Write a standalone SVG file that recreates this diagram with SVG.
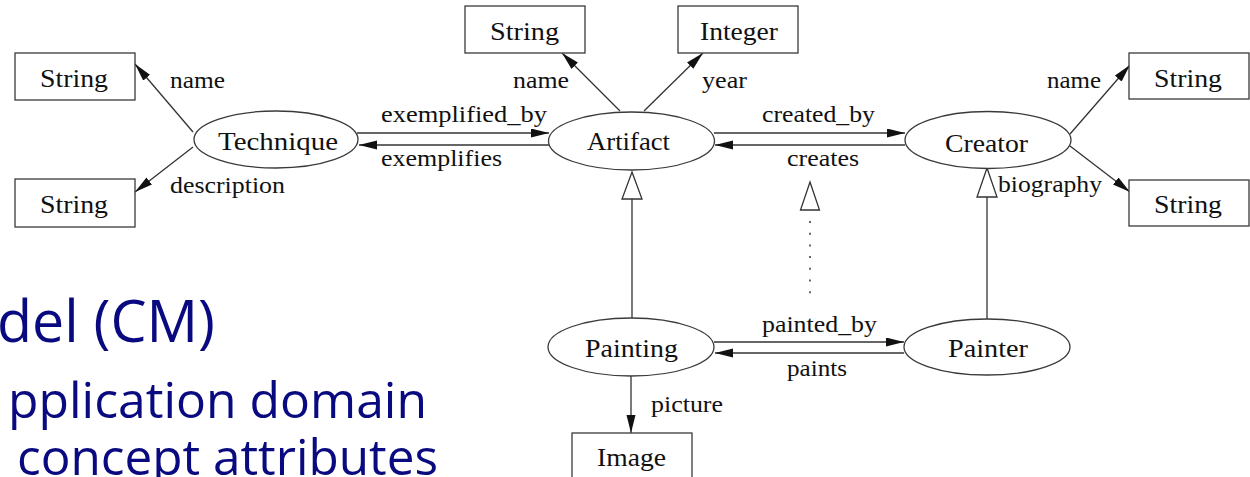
<svg xmlns="http://www.w3.org/2000/svg" width="1250" height="477" viewBox="0 0 1250 477">
<defs>
<style>
.box{fill:#fff;stroke:#3a3a3a;stroke-width:1.3}
.ell{fill:#fff;stroke:#3a3a3a;stroke-width:1.3}
.t{font-family:"Liberation Serif","Times New Roman",serif;font-size:25px;fill:#111}
.l{font-family:"Liberation Serif","Times New Roman",serif;font-size:23px;fill:#111}
.e{stroke:#333;stroke-width:1.3;fill:none}
.tri{fill:#fff;stroke:#333;stroke-width:1.3}
.title{font-family:"Open Sans","Noto Sans",sans-serif;fill:#0a0a80}
</style>
<marker id="ah" markerWidth="20" markerHeight="10" refX="18" refY="4.5" orient="auto" markerUnits="userSpaceOnUse">
<path d="M0,0 L18,4.5 L0,9 Z" fill="#111"/>
</marker>
</defs>

<g id="title">
<text class="title" x="-3" y="342" font-size="58" textLength="218" lengthAdjust="spacingAndGlyphs">del (CM)</text>
<text class="title" x="8" y="418" font-size="49" textLength="419" lengthAdjust="spacingAndGlyphs">pplication domain</text>
<text class="title" x="17" y="475" font-size="49" textLength="421" lengthAdjust="spacingAndGlyphs">concept attributes</text>
</g>

<g id="connectors">
<line class="e" x1="193" y1="132" x2="135" y2="64" marker-end="url(#ah)"/>
<line class="e" x1="193" y1="147" x2="135" y2="192" marker-end="url(#ah)"/>
<line class="e" x1="620" y1="111" x2="562" y2="53" marker-end="url(#ah)"/>
<line class="e" x1="644" y1="111" x2="703" y2="53" marker-end="url(#ah)"/>
<line class="e" x1="1070" y1="134" x2="1130" y2="65" marker-end="url(#ah)"/>
<line class="e" x1="1070" y1="146" x2="1130" y2="192" marker-end="url(#ah)"/>
<line class="e" x1="357" y1="133" x2="549" y2="133" marker-end="url(#ah)"/>
<line class="e" x1="549" y1="145" x2="359" y2="145" marker-end="url(#ah)"/>
<line class="e" x1="714" y1="133" x2="905" y2="133" marker-end="url(#ah)"/>
<line class="e" x1="905" y1="145" x2="715" y2="145" marker-end="url(#ah)"/>
<line class="e" x1="714" y1="342" x2="904" y2="342" marker-end="url(#ah)"/>
<line class="e" x1="904" y1="353" x2="715" y2="353" marker-end="url(#ah)"/>
<line class="e" x1="631" y1="376" x2="631" y2="433" marker-end="url(#ah)"/>
<line class="e" x1="632" y1="199" x2="632" y2="318"/>
<path class="tri" d="M632,172 L642,199 L622,199 Z"/>
<line x1="810" y1="221" x2="810" y2="295" stroke="#666" stroke-width="2" stroke-dasharray="2,9.7"/>
<path class="tri" d="M810,182 L819.5,210 L800.5,210 Z"/>
<line class="e" x1="987" y1="197" x2="987" y2="319"/>
<path class="tri" d="M987,168 L997,197 L977,197 Z"/>
<text class="l" x="170" y="88" textLength="55" lengthAdjust="spacingAndGlyphs">name</text>
<text class="l" x="170" y="193" textLength="115" lengthAdjust="spacingAndGlyphs">description</text>
<text class="l" x="513" y="88" textLength="56" lengthAdjust="spacingAndGlyphs">name</text>
<text class="l" x="702" y="88" textLength="45" lengthAdjust="spacingAndGlyphs">year</text>
<text class="l" x="381" y="122" textLength="166" lengthAdjust="spacingAndGlyphs">exemplified_by</text>
<text class="l" x="381" y="166" textLength="121" lengthAdjust="spacingAndGlyphs">exemplifies</text>
<text class="l" x="762" y="122" textLength="113" lengthAdjust="spacingAndGlyphs">created_by</text>
<text class="l" x="787" y="166" textLength="72" lengthAdjust="spacingAndGlyphs">creates</text>
<text class="l" x="1047" y="88" textLength="54" lengthAdjust="spacingAndGlyphs">name</text>
<text class="l" x="998" y="192" textLength="104" lengthAdjust="spacingAndGlyphs">biography</text>
<text class="l" x="762" y="332" textLength="115" lengthAdjust="spacingAndGlyphs">painted_by</text>
<text class="l" x="787" y="376" textLength="60" lengthAdjust="spacingAndGlyphs">paints</text>
<text class="l" x="651" y="412" textLength="72" lengthAdjust="spacingAndGlyphs">picture</text>
</g>

<g id="string-tl"><rect class="box" x="15" y="53" width="120" height="47"/><text class="t" x="40" y="87" textLength="68" lengthAdjust="spacingAndGlyphs">String</text></g>
<g id="string-bl"><rect class="box" x="15" y="179" width="120" height="48"/><text class="t" x="40" y="213" textLength="68" lengthAdjust="spacingAndGlyphs">String</text></g>
<g id="string-top"><rect class="box" x="465" y="6" width="120" height="47"/><text class="t" x="490" y="40" textLength="69" lengthAdjust="spacingAndGlyphs">String</text></g>
<g id="integer"><rect class="box" x="678" y="6" width="120" height="47"/><text class="t" x="700" y="40" textLength="78" lengthAdjust="spacingAndGlyphs">Integer</text></g>
<g id="string-tr"><rect class="box" x="1129" y="53" width="120" height="46"/><text class="t" x="1154" y="87" textLength="68" lengthAdjust="spacingAndGlyphs">String</text></g>
<g id="string-br"><rect class="box" x="1129" y="180" width="120" height="46"/><text class="t" x="1154" y="213" textLength="68" lengthAdjust="spacingAndGlyphs">String</text></g>
<g id="image"><rect class="box" x="572" y="433" width="120" height="50"/><text class="t" x="597" y="466" textLength="69" lengthAdjust="spacingAndGlyphs">Image</text></g>

<g id="technique"><ellipse class="ell" cx="276" cy="139.5" rx="82" ry="28.5"/><text class="t" x="218" y="150" textLength="120" lengthAdjust="spacingAndGlyphs">Technique</text></g>
<g id="artifact"><ellipse class="ell" cx="631.5" cy="141" rx="83" ry="29"/><text class="t" x="587" y="150" textLength="83" lengthAdjust="spacingAndGlyphs">Artifact</text></g>
<g id="creator"><ellipse class="ell" cx="988" cy="140" rx="83" ry="28.5"/><text class="t" x="945" y="152" textLength="83" lengthAdjust="spacingAndGlyphs">Creator</text></g>
<g id="painting"><ellipse class="ell" cx="631" cy="347" rx="83" ry="29"/><text class="t" x="585" y="357" textLength="93" lengthAdjust="spacingAndGlyphs">Painting</text></g>
<g id="painter"><ellipse class="ell" cx="987" cy="347" rx="83" ry="28"/><text class="t" x="948" y="357" textLength="80" lengthAdjust="spacingAndGlyphs">Painter</text></g>
</svg>
